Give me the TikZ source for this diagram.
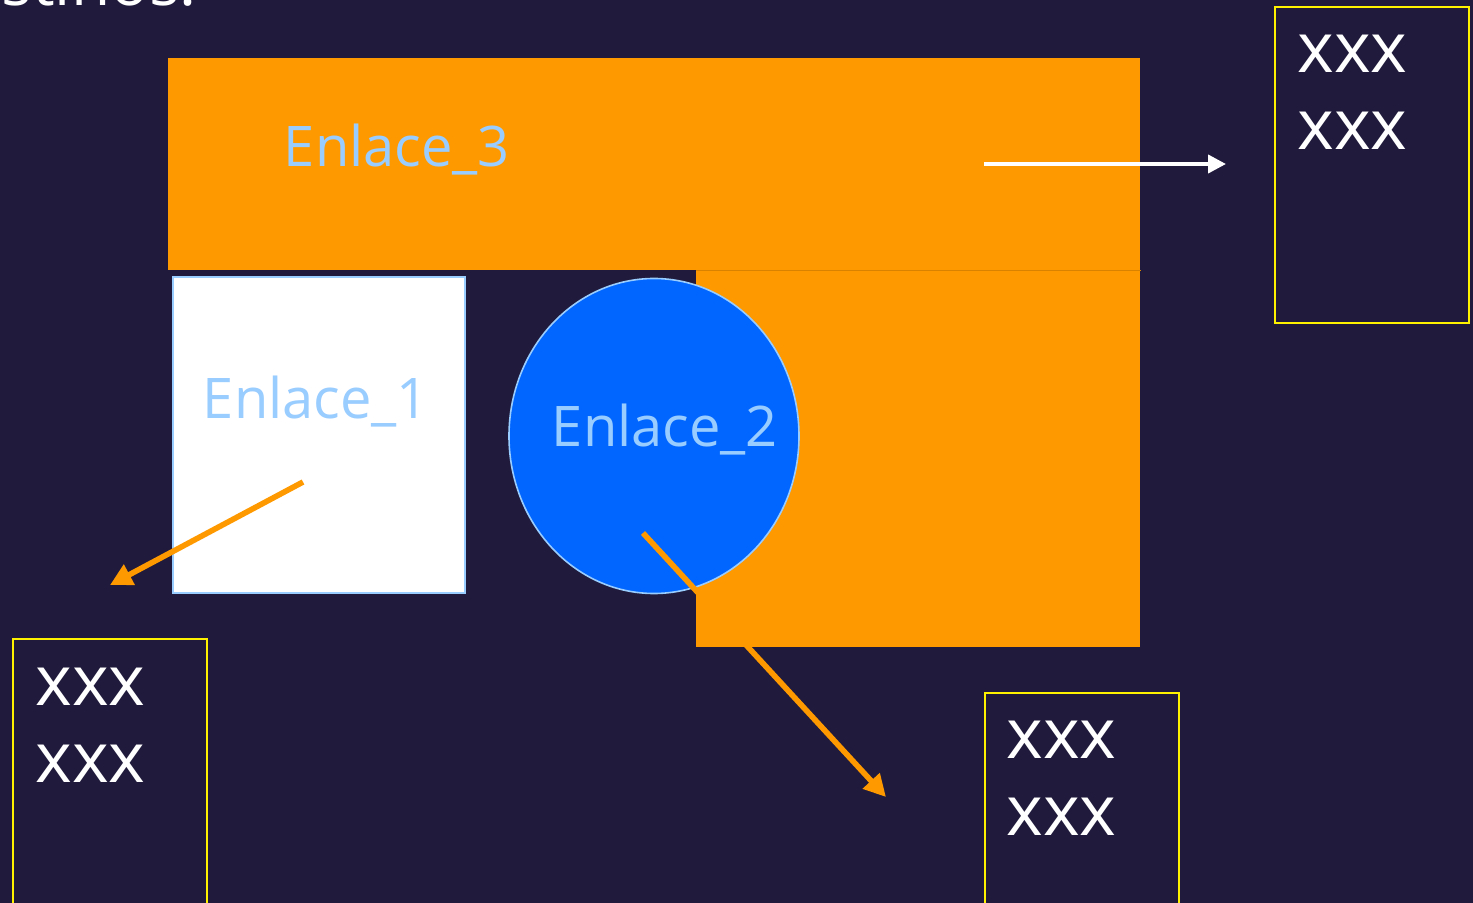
\documentclass[tikz,border=0pt]{standalone}
\usepackage{fontspec}
\setmainfont{Open Sans}
\usetikzlibrary{arrows.meta,shapes.geometric}
\definecolor{bgnavy}{HTML}{201B3C}
\definecolor{linkorange}{HTML}{FF9900}
\definecolor{linkblue}{HTML}{0066FF}
\definecolor{paleblue}{HTML}{99CCFF}
\begin{document}
\begin{tikzpicture}[x=0.5pt,y=-0.5pt,
	linklabel/.style={text=paleblue,font=\fontsize{28}{34}\selectfont,inner sep=0pt},
	destbox/.style={draw=yellow,line width=1pt,minimum width=97pt,minimum height=158pt,inner sep=0pt,anchor=north west},
	destlabel/.style={text=white,align=left,anchor=base west,inner sep=0pt,font=\fontsize{35}{38.5}\selectfont},
	hop/.style={-{Triangle[length=11pt,width=11pt]},line width=2.8pt,linkorange}]
\useasboundingbox (0,0) rectangle (1473,903);
\fill[bgnavy] (0,0) rectangle (1473,903);
\node[text=white,anchor=base east,inner sep=0pt,font=\fontsize{32}{38}\selectfont] (title) at (197,6) {Destinos:};
% Enlace_3 (L-shaped area)
\node[fill=linkorange,minimum width=486pt,minimum height=106pt,inner sep=0pt,anchor=north west] (e3top) at (168,58) {};
\node[fill=linkorange,minimum width=222pt,minimum height=188.5pt,inner sep=0pt,anchor=north west] (e3low) at (696,270) {};
\draw[linkorange!85!black,line width=0.3pt] (e3low.north west) -- (e3low.north east);
\node[linklabel] (l3) at (397,150) {Enlace\_3};
% Enlace_1
\node[fill=white,draw=paleblue,line width=1pt,minimum width=146pt,minimum height=158pt,inner sep=0pt,anchor=north west] (e1) at (172,276) {};
\node[linklabel] (l1) at (316,402) {Enlace\_1};
% Enlace_2
\node[ellipse,fill=linkblue,draw=paleblue,line width=0.8pt,minimum width=145pt,minimum height=157.5pt,inner sep=0pt] (e2) at (654,436) {};
\node[linklabel] (l2) at (665,430) {Enlace\_2};
% destinations
\node[destbox,minimum height=158pt] (d3) at (1274,6) {};
\node[destlabel] (t3) at (1297,150) {xxx\\xxx};
\node[destbox,minimum height=140pt] (d1) at (12,638) {};
\node[destlabel] (t1) at (35,782) {xxx\\xxx};
\node[destbox,minimum height=110pt] (d2) at (984,692) {};
\node[destlabel] (t2) at (1006,835) {xxx\\xxx};
% arrows
\coordinate (s3) at (984,164);
\coordinate (h3) at (1226,164);
\coordinate (s1) at (303,482);
\coordinate (h1) at (110,585);
\coordinate (s2) at (643,533);
\coordinate (h2) at (886,797);
\draw[hop,white,line width=2pt,-{Triangle[length=9pt,width=9pt]}] (s3) -- (h3);
\draw[hop] (s1) -- (h1);
\draw[hop] (s2) -- (h2);
\end{tikzpicture}
\end{document}
